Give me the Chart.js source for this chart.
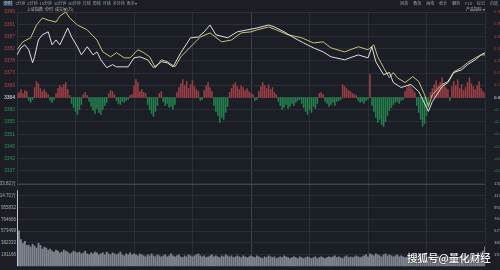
<!DOCTYPE html>
<html>
<head>
<meta charset="utf-8">
<script src="https://cdn.jsdelivr.net/npm/chart.js@4"></script>
<style>
  html, body { margin: 0; padding: 0; background: #1b1e25; }
  #wrap { position: relative; width: 500px; height: 270px; overflow: hidden; background: #1b1e25; font-family: "Noto Sans CJK SC", sans-serif; }
  canvas { position: absolute; left: 0; }
  #price { top: 0; }
  #volume { top: 178px; }
  .bar { position: absolute; display: flex; gap: 2px; font-size: 4px; line-height: 5px; color: #9a9ea8; white-space: nowrap; }
  .bar span.on { color: #dfe3ea; background: #2f3f5c; padding: 0 1px; }
  #watermark { position: absolute; left: 407px; top: 250px; font-size: 10.5px; font-weight: 500; color: #ffffff; white-space: nowrap; text-shadow: 0 0 2px #000; }
</style>
</head>
<body>
<div id="wrap">
  <canvas id="price" width="500" height="188"></canvas>
  <canvas id="volume" width="500" height="92"></canvas>
  <div class="bar" id="toolLeft" style="left:3px; top:1px;"></div>
  <div class="bar" id="toolRight" style="right:2px; top:1px; gap:5px;"></div>
  <div class="bar" id="legend" style="left:27px; top:7px; color:#b8bcc4;"></div>
  <div class="bar" style="left:466px; top:7px; color:#b8bcc4;">产品指标 ▾</div>
  <div id="watermark">搜狐号@量化财经</div>
</div>
<script>
// toolbar / legend text
const toolbarLeft = ['分时', '1分钟', '5分钟', '15分钟', '30分钟', '60分钟', '日线', '周线', '月线', '多分钟', '更多▾'];
const toolbarRight = ['回放', '叠加', '画线', '统计', '翻转', 'F10', '标记', '自选'];
const legendItems = ['上证指数', '分时', '成交量(万)'];

// price panel (minute index 0..240, index points)
const prevClose = 3364;
const priceStep = 4.5;
const priceTickLabels = ['', '3337', '3342', '3346', '3351', '3355', '3360', '3364', '3369', '3373', '3378', '3382', '3387', '3391', '3396'];
const pctTickLabels = ['', '-0.80%', '-0.67%', '-0.54%', '-0.40%', '-0.27%', '-0.13%', '0.00%', '0.13%', '0.27%', '0.40%', '0.54%', '0.67%', '0.80%', '0.94%'];

const whiteMin = [0,2,4,6,8,9,11,13,16,18,20,22,26,28,31,33,36,39,41,43,46,49,51,54,57,60,63,67,70,74,77,80,84,89,93,96,99,102,108,113,118,123,129,132,137,142,147,152,157,161,168,175,180,182,184,188,191,193,197,202,206,208,211,213,218,221,224,228,231,235,238,240];
const whitePrice = [3379.7,3382.3,3383.4,3381.6,3376.8,3379.0,3385.2,3387.1,3388.2,3383.4,3385.2,3383.4,3389.6,3386.3,3382.7,3379.7,3382.7,3379.7,3380.8,3377.9,3375.0,3376.1,3375.3,3375.3,3375.3,3378.6,3379.0,3377.9,3375.0,3377.2,3376.8,3375.3,3380.5,3386.0,3386.3,3388.2,3390.7,3387.1,3386.0,3388.2,3388.9,3389.6,3390.7,3390.0,3388.2,3386.0,3384.1,3382.3,3380.8,3379.0,3377.9,3379.7,3378.6,3382.7,3377.2,3372.4,3373.2,3369.5,3367.7,3368.8,3366.2,3363.3,3358.9,3362.5,3368.0,3369.5,3373.2,3374.2,3376.1,3377.9,3379.7,3380.5];

const yellowMin = [0,3,7,10,13,16,20,22,25,27,31,36,41,44,48,51,55,58,62,65,68,71,74,77,81,84,91,94,99,105,110,115,120,123,129,133,139,146,152,157,161,168,175,180,183,185,188,191,193,195,199,203,206,209,211,213,218,221,224,228,231,235,238,240];
const yellowPrice = [3381.6,3384.5,3386.0,3390.7,3393.3,3392.5,3391.8,3394.0,3395.5,3393.3,3390.7,3388.9,3385.2,3380.8,3379.0,3380.5,3378.6,3378.6,3381.6,3380.5,3379.0,3375.0,3377.9,3377.2,3375.3,3379.0,3384.1,3386.3,3387.8,3384.5,3385.2,3387.8,3388.2,3388.9,3390.0,3388.9,3387.1,3386.0,3384.1,3384.5,3382.3,3380.8,3382.7,3381.6,3383.4,3379.0,3375.0,3371.3,3373.2,3371.3,3369.5,3371.7,3369.9,3365.1,3360.7,3365.1,3368.8,3369.9,3373.5,3375.0,3376.8,3378.6,3379.7,3379.7];

// red/green strength bars, one per minute
const flowBars = [
  3,5,8,4,7,6, -3,-5,-2, 10,16,14,9, 6,8,5,3, -3,-5,-2, 4,9,12,10,13,15,8, 2,
  -6,-10,-14,-17,-12,-7, 3,5,2, -4,-9,-13,-16,-11,-15,-17,-12,-8,-5, 4,7,6,3,
  -3,-6,-7,-4,-5,-3,-2, 2,3, 12,18,15, 6,8,5,4, -7,-12,-16,-19,-14,-8, 4,6,
  -4,-8,-6,-10,-9,-12,-7,
  5,10,14,18,12,16,9,13,17,11,8,6,-3,-2,7,12,15,10,6,
  -8,-14,-18,-25,-20,-22,-15,-9,
  5,9,13,15,11,8,12,10,7,9,6,4,3, -3,-2,
  6,11,15,12,9,13,8,10,5,3,
  -4,-8,-12,-10,-7,-11,-9,-6,-8,-5,-3,-2,
  -6,-10,-14,-17,-12,-15,-9,-11,-6, 4,5,3,
  -4,-6,-9,-7,-5,-8,-4,-3,-2, 13,11,9,7,6,4,3,2, -3,-5,-4,-6,-3,-2, 23,
  -8,-14,-20,-25,-22,-27,-29,-24,-18,-13,-10,-7,-5,-4,-6,-3,-2,
  6,10,13,11,8,5, -8,-15,-22,-29,-26,-18,-10,
  5,9,13,17,12,15,20,14,10,8,-3,11,16,12,18,9,13,7,10,15,20,14,11,8,12,16,9,6,4
];

// volume panel, thousands per minute
const volTickLabels = ['', '191166', '382333', '573499', '764666', '955832', '114.70万', '133.82万'];
const volStep = 191166.5;
const volumeThousands = [
  1230,576,436,373,405,342,
  342,311,358,327,296,373,342,280,311,296,
  265,280,249,233,265,249,218,233,265,249,233,202,218,249,233,
  218,233,202,218,249,202,187,218,202,233,218,187,202,218,187,233,202,187,218,202,187,202,233,187,171,202,187,218,187,202,
  187,171,202,187,171,156,187,171,202,171,156,187,171,156,171,187,156,171,202,171,
  156,171,187,156,140,171,156,187,171,156,171,187,202,171,156,171,140,156,171,187,
  156,171,156,140,171,156,187,171,156,171,140,156,171,156,140,171,156,140,156,171,
  156,140,171,156,140,125,156,140,171,156,140,156,125,140,156,140,171,156,140,125,
  140,156,140,125,156,140,125,140,156,140,125,140,156,125,140,156,140,125,140,156,
  140,156,171,140,156,140,125,156,171,140,156,140,156,171,156,140,156,171,187,156,
  202,187,171,202,187,171,156,187,202,171,187,171,156,171,187,156,171,156,140,156,
  171,156,140,156,171,156,187,171,156,140,156,171,156,140,156,171,156,140,156,171,
  156,140,156,171,156,140,156,171,187,156,171,156,140,171,187,202,171,218,249,311
];

// toolbar text
document.getElementById('toolLeft').innerHTML = toolbarLeft.map((t, i) => `<span class="${i === 0 ? 'on' : ''}">${t}</span>`).join('');
document.getElementById('toolRight').innerHTML = toolbarRight.map(t => `<span>${t}</span>`).join('');
document.getElementById('legend').innerHTML = legendItems.map(t => `<span>${t}</span>`).join('');

const RED = '#b8454b';
const GREEN = '#2c9459';
const BAR_RED = '#9c3f45';
const BAR_GREEN = '#25804e';
const GRID = '#2a2e38';
const tickFont = { family: 'Liberation Sans, Arial, sans-serif', size: 5 };

const priceMin = prevClose - 7 * priceStep;
const priceMax = prevClose + 7 * priceStep;
const priceTicks = priceTickLabels.map((_, i) => priceMin + i * priceStep);
const sideColor = (c) => {
  if (!c.tick) return '#e8e8e8';
  const v = c.tick.value;
  return v > prevClose + 0.01 ? RED : (v < prevClose - 0.01 ? GREEN : '#e8e8e8');
};

const xGrid = () => ({
  type: 'linear', min: 0, max: 240, offset: false,
  ticks: { display: false, stepSize: 30 },
  grid: { offset: false, color: c => (c.tick && c.tick.value === 120) ? '#3c414d' : GRID, drawTicks: false, lineWidth: 1 },
  border: { display: false }
});

new Chart(document.getElementById('price'), {
  type: 'line',
  data: {
    datasets: [
      {
        type: 'bar', yAxisID: 'yb',
        data: flowBars.map((v, i) => ({ x: i, y: v })),
        backgroundColor: flowBars.map(v => v >= 0 ? BAR_RED : BAR_GREEN),
        barThickness: 0.9, order: 3
      },
      {
        type: 'line', yAxisID: 'y',
        data: yellowMin.map((m, i) => ({ x: m, y: yellowPrice[i] })),
        borderColor: '#cac37a', borderWidth: 1, pointRadius: 0, tension: 0, order: 2
      },
      {
        type: 'line', yAxisID: 'y',
        data: whiteMin.map((m, i) => ({ x: m, y: whitePrice[i] })),
        borderColor: '#e0e0e6', borderWidth: 1, pointRadius: 0, tension: 0, order: 1
      }
    ]
  },
  options: {
    responsive: false, animation: false, events: [],
    layout: { padding: { top: 12, bottom: 4, left: 0, right: 0 } },
    plugins: { legend: { display: false }, tooltip: { enabled: false } },
    scales: {
      x: xGrid(),
      y: {
        position: 'left', min: priceMin, max: priceMax,
        afterBuildTicks: s => { s.ticks = priceTicks.map(v => ({ value: v })); },
        afterFit: s => { s.width = 17; },
        ticks: {
          font: tickFont, padding: 2,
          color: sideColor,
          callback: (v, i) => priceTickLabels[i]
        },
        grid: { color: c => c.index === 14 ? '#3a2a33' : GRID, drawTicks: false },
        border: { display: false }
      },
      yr: {
        position: 'right', min: priceMin, max: priceMax,
        afterBuildTicks: s => { s.ticks = priceTicks.map(v => ({ value: v })); },
        afterFit: s => { s.width = 15; },
        ticks: {
          font: { ...tickFont, size: 4.4 }, padding: 1,
          color: sideColor,
          callback: (v, i) => pctTickLabels[i]
        },
        grid: { display: false },
        border: { display: false }
      },
      yb: { display: false, min: -86, max: 86 }
    }
  }
});

const volTicks = volTickLabels.map((_, i) => i * volStep);

new Chart(document.getElementById('volume'), {
  type: 'bar',
  data: {
    datasets: [{
      data: volumeThousands.map((v, i) => ({ x: i, y: v * 1000 })),
      backgroundColor: volumeThousands.map((v, i) => i === 0 ? '#d0d2d6' : '#80858f'),
      barThickness: 1.2
    }]
  },
  options: {
    responsive: false, animation: false, events: [],
    layout: { padding: { top: 6, bottom: 0, left: 0, right: 0 } },
    plugins: { legend: { display: false }, tooltip: { enabled: false } },
    scales: {
      x: xGrid(),
      y: {
        position: 'left', min: 0, max: 7 * volStep,
        afterBuildTicks: s => { s.ticks = volTicks.map(v => ({ value: v })); },
        afterFit: s => { s.width = 17; },
        ticks: { font: { ...tickFont, size: 4.5 }, padding: 1, color: '#a9adb5', callback: (v, i) => volTickLabels[i] },
        grid: { color: c => c.index === 7 ? '#3e434e' : GRID, drawTicks: false },
        border: { display: false }
      },
      yr: {
        position: 'right', min: 0, max: 7 * volStep,
        afterBuildTicks: s => { s.ticks = volTicks.map(v => ({ value: v })); },
        afterFit: s => { s.width = 15; },
        ticks: { font: { ...tickFont, size: 4.4 }, padding: 1, color: '#a9adb5', callback: (v, i) => volTickLabels[i] },
        grid: { display: false },
        border: { display: false }
      }
    }
  }
});
</script>
</body>
</html>
